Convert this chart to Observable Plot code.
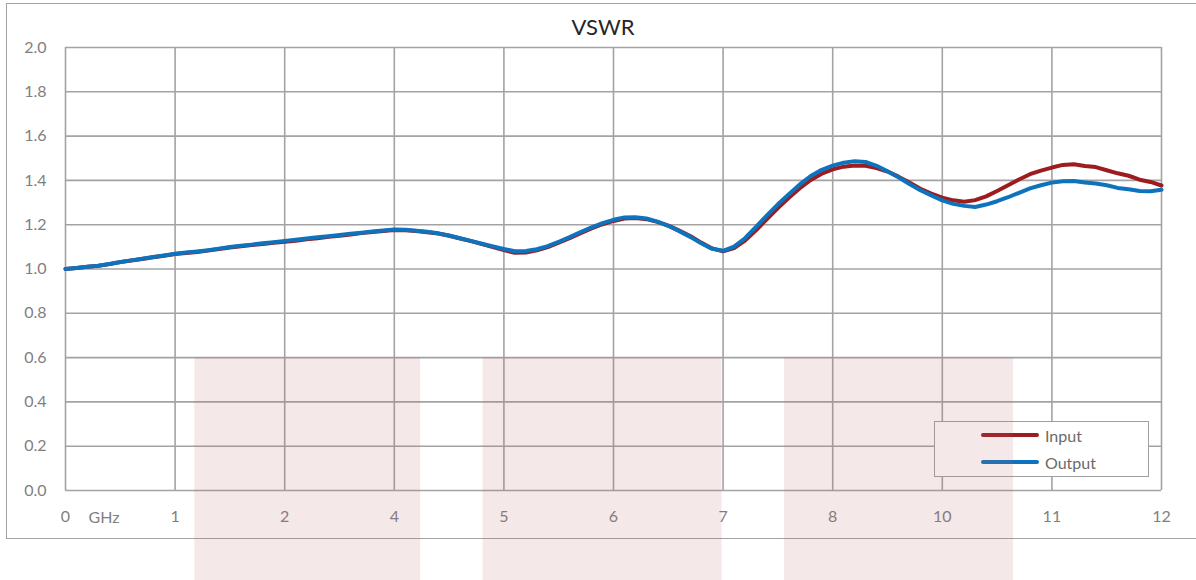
<!DOCTYPE html>
<html>
<head>
<meta charset="utf-8">
<script src="https://cdn.jsdelivr.net/npm/d3@7"></script>
<script src="https://cdn.jsdelivr.net/npm/@observablehq/plot@0.6"></script>
<style>
  html, body { margin: 0; padding: 0; background: #fff; overflow: hidden; }
  #wrap { position: relative; width: 1196px; height: 580px; font-family: Lato, "Open Sans", sans-serif; }
  #frame { position: absolute; left: 6px; top: 3px; width: 1210px; height: 536px; border: 1.6px solid #a3a3a3; box-sizing: border-box; }
  #chart, #bands { position: absolute; left: 0; top: 0; }
  #title { position: absolute; left: 503px; width: 200px; top: 13px; text-align: center; font-size: 22px; color: #262626; }
  #legend { position: absolute; left: 934px; top: 421px; width: 215px; height: 56px; box-sizing: border-box; border: 1.6px solid #a0a0a0; background: #fff; font-size: 16px; color: #6a6a6a; }
  .item { position: absolute; left: 46px; height: 20px; display: flex; align-items: center; }
  .sw { display: inline-block; width: 58px; height: 4px; border-radius: 2px; margin-right: 6px; }
</style>
</head>
<body>
<div id="wrap">
  <div id="frame"></div>
  <div id="chart"></div>
  <div id="legend"></div>
  <div id="bands"></div>
  <div id="title">VSWR</div>
</div>
<script>
// x positions are in axis-slot units (0..10), tick labels as printed
const xTickPos = [0, 1, 2, 3, 4, 5, 6, 7, 8, 9, 10];
const xTickLabels = ["0", "1", "2", "4", "5", "6", "7", "8", "10", "11", "12"];
const yTicks = [0, 0.2, 0.4, 0.6, 0.8, 1.0, 1.2, 1.4, 1.6, 1.8, 2.0];

const seriesNames = ["Input", "Output"];
const seriesColors = ["#9c1c20", "#0e73bd"];

// sample positions, step 0.1 slot
const xs = d3.range(0, 101).map(i => i / 10);

const inputVals = [
  1.000, 1.005, 1.010, 1.015, 1.022, 1.031, 1.038, 1.045, 1.053, 1.060,
  1.068, 1.072, 1.077, 1.083, 1.090, 1.097, 1.103, 1.108, 1.113, 1.118,
  1.123, 1.128, 1.134, 1.139, 1.145, 1.150, 1.156, 1.162, 1.167, 1.172,
  1.176, 1.175, 1.172, 1.166, 1.160, 1.150, 1.138, 1.126, 1.112, 1.099,
  1.085, 1.073, 1.074, 1.084, 1.099, 1.119, 1.139, 1.162, 1.183, 1.202,
  1.217, 1.228, 1.230, 1.225, 1.213, 1.196, 1.173, 1.149, 1.119, 1.093,
  1.080, 1.094, 1.128, 1.175, 1.225, 1.275, 1.322, 1.365, 1.402, 1.430,
  1.450, 1.462, 1.467, 1.466, 1.456, 1.440, 1.417, 1.390, 1.362, 1.340,
  1.322, 1.310, 1.304, 1.311, 1.328, 1.352, 1.378, 1.404, 1.428, 1.444,
  1.458, 1.470, 1.473, 1.465, 1.460, 1.446, 1.432, 1.421, 1.403, 1.393,
  1.377
];
const outputVals = [
  1.000, 1.005, 1.010, 1.015, 1.023, 1.032, 1.039, 1.046, 1.054, 1.061,
  1.069, 1.074, 1.079, 1.085, 1.092, 1.099, 1.105, 1.110, 1.116, 1.121,
  1.127, 1.132, 1.138, 1.143, 1.148, 1.153, 1.159, 1.164, 1.169, 1.174,
  1.178, 1.177, 1.173, 1.168, 1.161, 1.151, 1.139, 1.127, 1.114, 1.102,
  1.090, 1.080, 1.081, 1.089, 1.103, 1.123, 1.144, 1.167, 1.188, 1.207,
  1.222, 1.233, 1.234, 1.228, 1.214, 1.195, 1.171, 1.145, 1.116, 1.091,
  1.082, 1.101, 1.139, 1.190, 1.242, 1.292, 1.338, 1.382, 1.420, 1.448,
  1.467, 1.480, 1.487, 1.483, 1.466, 1.441, 1.414, 1.384, 1.356, 1.332,
  1.310, 1.294, 1.285, 1.280, 1.291, 1.306, 1.324, 1.344, 1.364, 1.378,
  1.390, 1.396, 1.397, 1.391, 1.386, 1.378, 1.366, 1.360, 1.352, 1.351,
  1.358
];

// shaded bands (in slot units / VSWR units)
const bandStart = [1.18, 3.81, 6.56];
const bandEnd = [3.24, 5.99, 8.65];
const bandTop = [0.6, 0.6, 0.6];
const bandBottom = [-0.41, -0.41, -0.41];

const rows = [];
xs.forEach((x, i) => {
  rows.push({x, v: inputVals[i], s: seriesNames[0]});
  rows.push({x, v: outputVals[i], s: seriesNames[1]});
});
const bands = bandStart.map((b, i) => ({x1: b, x2: bandEnd[i], y1: bandBottom[i], y2: bandTop[i]}));

const W = 1196, H = 580;
const margins = {marginLeft: 65, marginRight: 35, marginTop: 47, marginBottom: 90};
const gridColor = "#a3a3a3";
const labelColor = "#7f7f7f";

const chart = Plot.plot({
  width: W, height: H, ...margins,
  style: {background: "transparent", fontFamily: "Lato, 'Open Sans', sans-serif", fontSize: "16px", color: labelColor, overflow: "visible"},
  x: {domain: [0, 10], ticks: xTickPos, tickFormat: i => xTickLabels[i], tickSize: 0, tickPadding: 20, label: null},
  y: {domain: [0, 2], ticks: yTicks, tickFormat: d3.format(".1f"), tickSize: 0, tickPadding: 19, label: null},
  color: {domain: seriesNames, range: seriesColors},
  marks: [
    Plot.gridX(xTickPos, {stroke: gridColor, strokeOpacity: 1, strokeWidth: 1.6}),
    Plot.gridY(yTicks, {stroke: gridColor, strokeOpacity: 1, strokeWidth: 1.6}),
    Plot.text(["GHz"], {x: xTickPos[0], y: yTicks[0], dx: 23, dy: 27, textAnchor: "start", fill: labelColor, fontSize: 16, clip: false}),
    Plot.line(rows.filter(d => d.s === "Input"), {x: "x", y: "v", stroke: seriesColors[0], strokeWidth: 4, curve: "linear"}),
    Plot.line(rows.filter(d => d.s === "Output"), {x: "x", y: "v", stroke: seriesColors[1], strokeWidth: 4, curve: "linear"})
  ]
});
document.getElementById("chart").appendChild(chart);

const bandPlot = Plot.plot({
  width: W, height: H, ...margins,
  style: {background: "transparent", overflow: "visible"},
  x: {domain: [0, 10], axis: null},
  y: {domain: [0, 2], axis: null},
  marks: [
    Plot.rect(bands, {x1: "x1", x2: "x2", y1: "y1", y2: "y2", fill: "rgb(180,100,110)", fillOpacity: 0.15, clip: false})
  ]
});
document.getElementById("bands").appendChild(bandPlot);

const legend = document.getElementById("legend");
seriesNames.forEach((name, i) => {
  const item = document.createElement("div");
  item.className = "item";
  item.style.top = (i === 0 ? 3 : 30) + "px";
  const sw = document.createElement("span");
  sw.className = "sw";
  sw.style.background = seriesColors[i];
  const t = document.createElement("span");
  t.textContent = name;
  item.appendChild(sw);
  item.appendChild(t);
  legend.appendChild(item);
});
</script>
</body>
</html>
